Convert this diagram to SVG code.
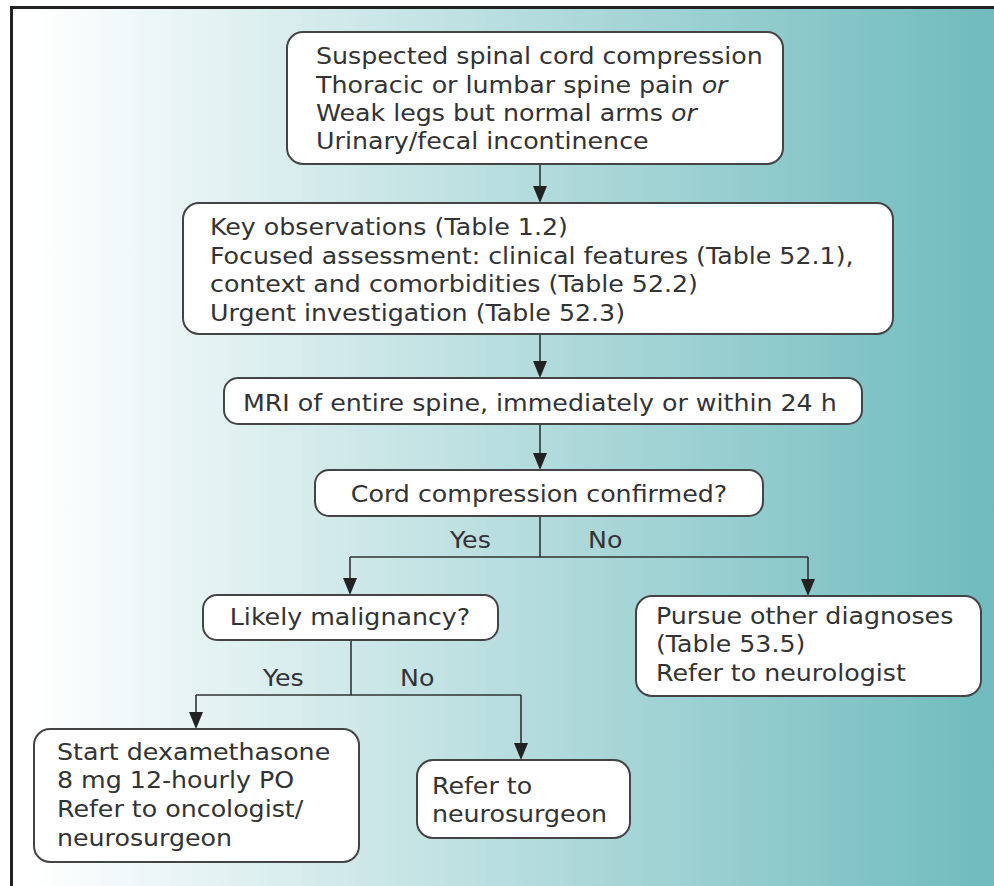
<svg xmlns="http://www.w3.org/2000/svg" width="994" height="886" viewBox="0 0 994 886">
<defs>
<linearGradient id="bg" x1="0" y1="0" x2="994" y2="0" gradientUnits="userSpaceOnUse">
<stop offset="0.03" stop-color="#ffffff"/>
<stop offset="1" stop-color="#6fbbbd"/>
</linearGradient>
<style>
.box{fill:#fff;stroke:#444;stroke-width:2}
.t{font-family:"DejaVu Sans","Noto Sans",sans-serif;font-size:23px;fill:#333}
.c{fill:none;stroke:#333;stroke-width:1.6}
.a{fill:#222}
</style>
</defs>
<rect width="994" height="886" fill="#fff"/>
<rect x="12" y="8" width="990" height="890" fill="url(#bg)"/>
<path d="M11.5,886 L11.5,7.5 L994,7.5" fill="none" stroke="#222" stroke-width="3"/>

<g id="connectors">
<path class="c" d="M540,164 V190"/><path class="a" d="M533,186 L547,186 L540,203 Z"/>
<path class="c" d="M540,334 V365"/><path class="a" d="M533,361 L547,361 L540,378 Z"/>
<path class="c" d="M540,424 V457"/><path class="a" d="M533,453 L547,453 L540,470 Z"/>
<path class="c" d="M540,516 V557 M350,557 H808 M350,557 V582 M808,557 V583"/>
<path class="a" d="M343,578 L357,578 L350,595 Z"/><path class="a" d="M801,579 L815,579 L808,596 Z"/>
<path class="c" d="M351,640 V695 M196,695 H521 M196,695 V722 M521,695 V747"/>
<path class="a" d="M189,712 L203,712 L196,729 Z"/><path class="a" d="M514,743 L528,743 L521,760 Z"/>
</g>

<g class="t">
<text x="450" y="548" transform="matrix(1.1,0,0,1,-45,0)">Yes</text>
<text x="588" y="548" transform="matrix(1.1,0,0,1,-58.8,0)">No</text>
<text x="263" y="686" transform="matrix(1.1,0,0,1,-26.3,0)">Yes</text>
<text x="400" y="686" transform="matrix(1.1,0,0,1,-40,0)">No</text>
</g>

<g id="n1">
<rect class="box" x="287" y="32" width="496" height="132" rx="16"/>
<g class="t" transform="matrix(1.1,0,0,1,-31.6,0)">
<text x="316" y="64">Suspected spinal cord compression</text>
<text x="316" y="93">Thoracic or lumbar spine pain <tspan font-style="italic">or</tspan></text>
<text x="316" y="121">Weak legs but normal arms <tspan font-style="italic">or</tspan></text>
<text x="316" y="149">Urinary/fecal incontinence</text>
</g>
</g>
<g id="n2">
<rect class="box" x="183" y="203" width="710" height="131" rx="16"/>
<g class="t" transform="matrix(1.1,0,0,1,-21,0)">
<text x="210" y="235">Key observations (Table 1.2)</text>
<text x="210" y="264">Focused assessment: clinical features (Table 52.1),</text>
<text x="210" y="292">context and comorbidities (Table 52.2)</text>
<text x="210" y="321">Urgent investigation (Table 52.3)</text>
</g>
</g>
<g id="n3">
<rect class="box" x="224" y="378" width="638" height="46" rx="14"/>
<text class="t" x="243" y="411" transform="matrix(1.1,0,0,1,-24.3,0)">MRI of entire spine, immediately or within 24 h</text>
</g>
<g id="n4">
<rect class="box" x="315" y="470" width="448" height="46" rx="14"/>
<text class="t" x="539" y="502" text-anchor="middle" transform="matrix(1.1,0,0,1,-53.9,0)">Cord compression confirmed?</text>
</g>
<g id="n5">
<rect class="box" x="203" y="595" width="295" height="45" rx="14"/>
<text class="t" x="350" y="625" text-anchor="middle" transform="matrix(1.1,0,0,1,-35,0)">Likely malignancy?</text>
</g>
<g id="n6">
<rect class="box" x="636" y="596" width="345" height="100" rx="16"/>
<g class="t" transform="matrix(1.1,0,0,1,-65.6,0)">
<text x="656" y="624">Pursue other diagnoses</text>
<text x="656" y="652">(Table 53.5)</text>
<text x="656" y="681">Refer to neurologist</text>
</g>
</g>
<g id="n7">
<rect class="box" x="34" y="729" width="325" height="133" rx="16"/>
<g class="t" transform="matrix(1.1,0,0,1,-5.7,0)">
<text x="57" y="760">Start dexamethasone</text>
<text x="57" y="788">8 mg 12-hourly PO</text>
<text x="57" y="817">Refer to oncologist/</text>
<text x="57" y="846">neurosurgeon</text>
</g>
</g>
<g id="n8">
<rect class="box" x="417" y="760" width="213" height="78" rx="16"/>
<g class="t" transform="matrix(1.1,0,0,1,-43.2,0)">
<text x="432" y="794">Refer to</text>
<text x="432" y="822">neurosurgeon</text>
</g>
</g>
</svg>
